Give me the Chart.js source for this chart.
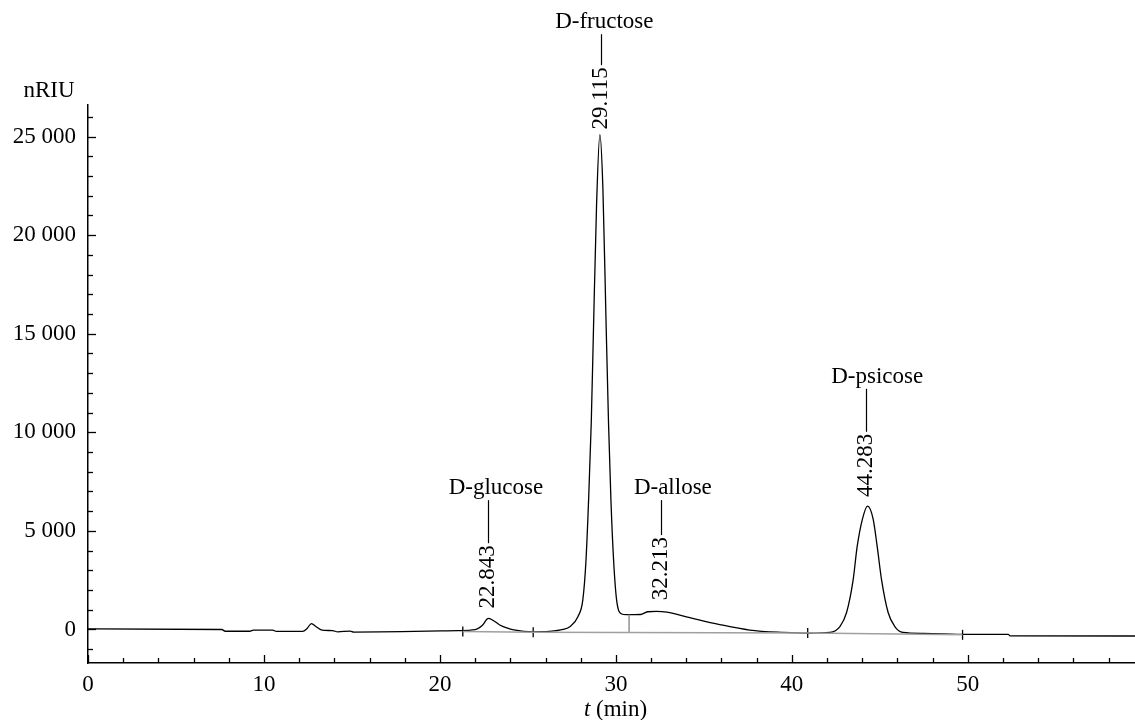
<!DOCTYPE html>
<html>
<head>
<meta charset="utf-8">
<script src="https://cdn.jsdelivr.net/npm/chart.js@4.4.0/dist/chart.umd.min.js"></script>
<style>
    html, body { margin: 0; padding: 0; background: #fff; }
    #wrap { width: 1135px; height: 720px; }
</style>
</head>
<body>
<div id="wrap"><canvas id="grafico" width="1135" height="720"></canvas></div>
<script>
// retention time (min) and RI signal (nRIU)
const times = [0, 0.4, 7.6, 7.8, 9.2, 9.4, 10.5, 10.7, 12.2, 12.45,
    12.7, 12.95, 13.3, 13.9, 14.2, 14.9, 15.1, 21.0, 22.0, 22.4,
    22.75, 23.1, 23.4, 23.8, 24.2, 25.3, 26.2, 27.0, 27.4, 27.84,
    28.12, 28.3, 28.45, 28.6, 28.72, 28.9, 29.09, 29.26, 29.43, 29.58,
    29.72, 29.87, 30.04, 30.3, 30.6, 31.4, 31.8, 32.3,
    32.9, 34.2, 35.9, 37.6, 39.5, 41.0, 42.16, 42.73, 43.11, 43.48,
    43.71, 44.01, 44.3, 44.62, 44.85, 45.1, 45.47, 45.85, 46.31, 47.5,
    50.0, 52.3, 52.4, 59.6];
const signal = [30, 30, 0, -90, -90, -30, -30, -100, -100, 50,
    300, 150, -30, -60, -120, -80, -130, -60, -10, 200,
    560, 420, 230, 80, -20, -120, -100, 0, 150, 650,
    1500, 3500, 6600, 10500, 15000, 21500, 25100, 22400, 16000, 10500,
    6500, 3500, 1500, 800, 750, 760, 900, 920,
    880, 600, 250, -30, -150, -190, -150, 150, 860, 2500,
    4200, 5600, 6260, 5600, 4200, 2500, 860, 150, -150, -200,
    -250, -250, -320, -330];

// integration baseline + event marks
const baseTimes = [21.3, 25.3, 40.9, 49.7];
const baseSignal = [-100, -140, -180, -270];
const dropTimes = [30.75, 30.75];
const dropSignal = [-170, 760];

// peak labels
const peakNames = ['D-glucose', 'D-fructose', 'D-allose', 'D-psicose'];
const peakTimes = [22.843, 29.115, 32.213, 44.283];
const peakHeights = [560, 25100, 920, 6260];

const xTicks = [0, 2, 4, 6, 8, 10, 12, 14, 16, 18, 20, 22, 24, 26, 28, 30,
    32, 34, 36, 38, 40, 42, 44, 46, 48, 50, 52, 54, 56, 58];
const yTicks = [-1000, 0, 1000, 2000, 3000, 4000, 5000, 6000, 7000, 8000, 9000,
    10000, 11000, 12000, 13000, 14000, 15000, 16000, 17000, 18000, 19000, 20000,
    21000, 22000, 23000, 24000, 25000, 26000];

// label layout per peak (pixels): gap above apex, connector length, x shifts
const labelStyle = [
    { gap: 10, len: 43, dx: -2, nameDx: 6 },
    { gap: 5, len: 31, dx: 1, nameDx: 4 },
    { gap: 11, len: 35, dx: 6, nameDx: 18 },
    { gap: 9, len: 43, dx: -1, nameDx: 10 }
];

const FONTE = "'Liberation Serif', 'DejaVu Serif', serif";

const pares = (xs, ys) => xs.map((t, i) => ({ x: t, y: ys[i] }));
const milhar = (v) => String(v).replace(/\B(?=(\d{3})+(?!\d))/g, ' ');

const extras = {
    id: 'extras',
    afterDraw(chart) {
        const { ctx, chartArea: area, scales: { x, y } } = chart;
        ctx.save();
        ctx.strokeStyle = '#000';
        ctx.fillStyle = '#000';
        ctx.lineWidth = 1.3;

        // inward tick marks
        y.ticks.forEach(t => {
            const py = Math.round(y.getPixelForValue(t.value)) + 0.5;
            const len = t.value % 5000 === 0 ? 8 : 5;
            ctx.beginPath();
            ctx.moveTo(area.left, py);
            ctx.lineTo(area.left + len, py);
            ctx.stroke();
        });
        x.ticks.forEach(t => {
            const px = Math.round(x.getPixelForValue(t.value)) + 0.5;
            const len = t.value % 10 === 0 ? 8 : 5;
            ctx.beginPath();
            ctx.moveTo(px, area.bottom);
            ctx.lineTo(px, area.bottom - len);
            ctx.stroke();
        });

        // axis titles
        ctx.font = '23px ' + FONTE;
        ctx.textAlign = 'center';
        ctx.textBaseline = 'alphabetic';
        ctx.fillText('nRIU', area.left - 39, area.top - 8);

        ctx.font = 'italic 23px ' + FONTE;
        const wT = ctx.measureText('t').width;
        ctx.font = '23px ' + FONTE;
        const wR = ctx.measureText(' (min)').width;
        const cx = (area.left + area.right) / 2 + 4;
        ctx.textAlign = 'left';
        ctx.font = 'italic 23px ' + FONTE;
        ctx.fillText('t', cx - (wT + wR) / 2, 716);
        ctx.font = '23px ' + FONTE;
        ctx.fillText(' (min)', cx - (wT + wR) / 2 + wT, 716);

        // peak annotations
        peakTimes.forEach((t, i) => {
            const s = labelStyle[i];
            const px = x.getPixelForValue(t);
            const py = y.getPixelForValue(peakHeights[i]);
            const num = t.toFixed(3);
            ctx.font = '23px ' + FONTE;
            const w = ctx.measureText(num).width;
            const bottom = py - s.gap;

            ctx.save();
            ctx.translate(px + s.dx, bottom);
            ctx.rotate(-Math.PI / 2);
            ctx.textAlign = 'left';
            ctx.textBaseline = 'middle';
            ctx.fillText(num, 0, 0);
            ctx.restore();

            const lx = Math.round(px + s.dx) + 0.5;
            const l0 = bottom - w - 2;
            const l1 = l0 - s.len;
            ctx.lineWidth = 1.2;
            ctx.beginPath();
            ctx.moveTo(lx, l0);
            ctx.lineTo(lx, l1);
            ctx.stroke();

            ctx.textAlign = 'center';
            ctx.textBaseline = 'alphabetic';
            ctx.fillText(peakNames[i], px + s.nameDx, l1 - 6);
        });
        ctx.restore();
    }
};

const ctx = document.getElementById('grafico');
new Chart(ctx, {
    type: 'line',
    data: {
        datasets: [
            {
                data: pares(baseTimes, baseSignal),
                borderColor: '#a0a0a0',
                borderWidth: 1.4,
                pointRadius: 0
            },
            {
                data: pares(dropTimes, dropSignal),
                borderColor: '#8a8a8a',
                borderWidth: 1.4,
                pointRadius: 0
            },
            {
                data: pares(baseTimes, baseSignal),
                showLine: false,
                pointStyle: 'line',
                rotation: 90,
                pointRadius: 5,
                borderColor: '#000',
                borderWidth: 1.3
            },
            {
                data: pares(times, signal),
                borderColor: '#000',
                borderWidth: 1.3,
                pointRadius: 0,
                cubicInterpolationMode: 'monotone'
            }
        ]
    },
    options: {
        responsive: false,
        animation: false,
        devicePixelRatio: 1,
        layout: { autoPadding: false, padding: { top: 105, right: 0, bottom: 0, left: 0 } },
        plugins: { legend: { display: false }, tooltip: { enabled: false } },
        scales: {
            x: {
                type: 'linear',
                min: 0,
                max: 59.5,
                afterBuildTicks: (s) => { s.ticks = xTicks.map(v => ({ value: v })); },
                afterFit: (s) => { s.height = 57; },
                grid: { display: false },
                border: { display: true, color: '#000', width: 1.5 },
                ticks: {
                    autoSkip: false,
                    maxRotation: 0,
                    padding: 0,
                    color: '#000',
                    font: { family: FONTE, size: 23 },
                    callback: (v) => v % 10 === 0 ? String(v) : ''
                }
            },
            y: {
                type: 'linear',
                min: -1700,
                max: 26600,
                afterBuildTicks: (s) => { s.ticks = yTicks.map(v => ({ value: v })); },
                afterFit: (s) => { s.width = 88; },
                grid: { display: false },
                border: { display: true, color: '#000', width: 1.5 },
                ticks: {
                    autoSkip: false,
                    padding: 4,
                    color: '#000',
                    font: { family: FONTE, size: 23 },
                    callback: (v) => v % 5000 === 0 ? milhar(v) : ''
                }
            }
        }
    },
    plugins: [extras]
});
</script>
</body>
</html>
